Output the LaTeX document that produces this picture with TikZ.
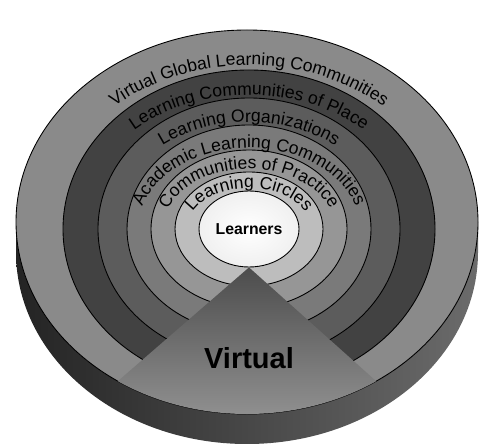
\documentclass[tikz,border=0pt]{standalone}
\usepackage{fontspec}
\usetikzlibrary{shapes.geometric,decorations.text,calc}
\newfontfamily\ringfont{Liberation Sans}
\definecolor{ringA}{gray}{0.54}
\definecolor{ringB}{gray}{0.26}
\definecolor{ringC}{gray}{0.36}
\definecolor{ringD}{gray}{0.48}
\definecolor{ringE}{gray}{0.59}
\definecolor{ringF}{gray}{0.74}
\definecolor{sideL}{gray}{0.14}
\definecolor{sideM}{gray}{0.24}
\definecolor{sideR}{gray}{0.42}
\definecolor{wedgeT}{gray}{0.30}
\definecolor{wedgeB}{gray}{0.58}

\begin{document}
\begin{tikzpicture}[x=0.02cm,y=0.02cm,
    ring/.style={draw=black,line width=0.5pt},
    ringlabel/.style={decorate,decoration={text along path,text align=center,
      text={|\ringfont\fontsize{10}{12}\selectfont|#1}}}]
      \useasboundingbox (0,0) rectangle (482,443);
      \coordinate (top) at (247,221);
      \coordinate (c) at (249,214);
      \shade[left color=sideL,middle color=sideM,right color=sideR]
        ($(top)+(-231,0)$) arc[start angle=180,end angle=360,x radius=231,y radius=192]
        -- ++(0,-30) arc[start angle=0,end angle=-180,x radius=231,y radius=192] -- cycle;
      \draw[ring,fill=ringA] (top) ellipse[x radius=231,y radius=192];
      \draw[ring,fill=ringB] (c) ellipse[x radius=186,y radius=159];
      \draw[ring,fill=ringC] (c) ellipse[x radius=151,y radius=131];
      \draw[ring,fill=ringD] (c) ellipse[x radius=122,y radius=104];
      \draw[ring,fill=ringE] (c) ellipse[x radius=98,y radius=79];
      \draw[ring,fill=ringF] (c) ellipse[x radius=74,y radius=57];
      \node[draw=black,line width=0.5pt,ellipse,inner sep=0pt,minimum width=2cm,minimum height=1.52cm,
        inner color=white,outer color=gray!12,
        font=\ringfont\bfseries\fontsize{9}{10}\selectfont] (learners) at (c) {Learners};
      \coordinate (wl) at ($(top)+(236:231 and 192)$);
      \coordinate (wr) at ($(top)+(304:231 and 192)$);
      \shade[top color=wedgeT,bottom color=wedgeB]
        (learners.south) -- (wl) arc[start angle=236,end angle=304,x radius=231,y radius=192] -- cycle;
      \node[font=\ringfont\bfseries\fontsize{16.5}{18}\selectfont] (virtual) at (249,85) {Virtual};
      \path[ringlabel={Virtual Global Learning Communities}]
        ($(c)+(-202,0)$) arc[start angle=180,end angle=0,x radius=202,y radius=164];
      \path[ringlabel={Learning Communities of Place}]
        ($(c)+(-170,0)$) arc[start angle=180,end angle=0,x radius=170,y radius=134];
      \path[ringlabel={Learning Organizations}]
        ($(c)+(-138,0)$) arc[start angle=180,end angle=0,x radius=138,y radius=107];
      \path[ringlabel={Academic Learning Communities}]
        ($(c)+(-111,0)$) arc[start angle=180,end angle=0,x radius=111,y radius=81];
      \path[ringlabel={Communities of Practice}]
        ($(c)+(-86,0)$) arc[start angle=180,end angle=0,x radius=86,y radius=60];
      \path[ringlabel={Learning Circles}]
        ($(c)+(-62,0)$) arc[start angle=180,end angle=0,x radius=62,y radius=41];
\end{tikzpicture}
\end{document}
